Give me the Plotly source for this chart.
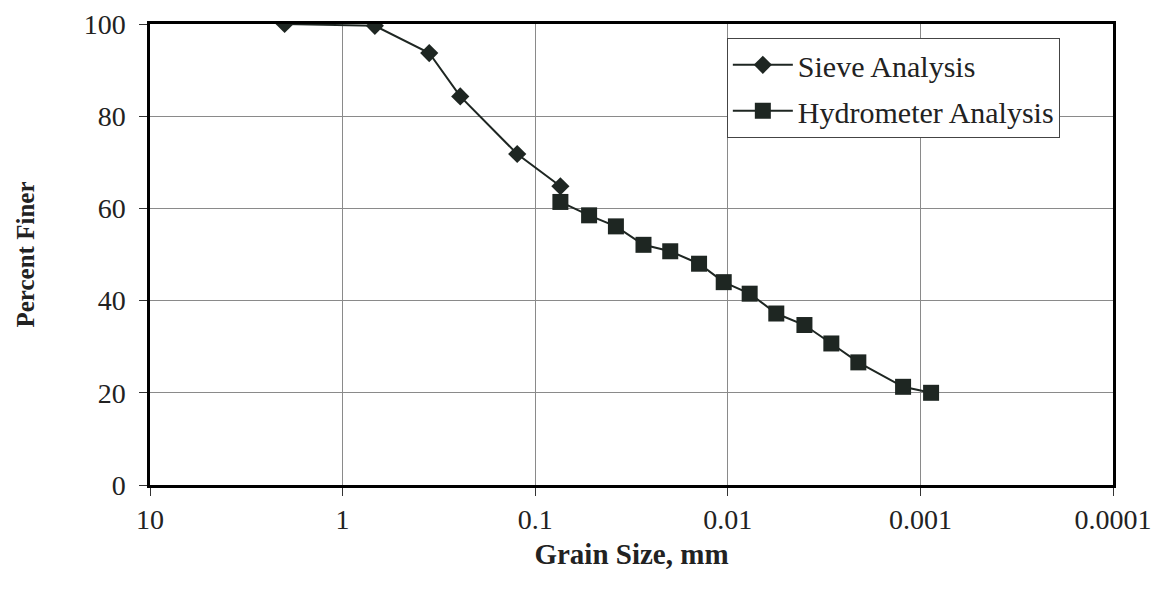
import plotly.graph_objects as go

# Sieve analysis (grain size in mm, percent finer)
sieve_size = [2.0, 0.68, 0.355, 0.245, 0.124, 0.074]
sieve_pct = [100, 99.6, 93.7, 84.3, 71.8, 64.8]

# Hydrometer analysis
hydro_size = [0.074, 0.0525, 0.0381, 0.0274, 0.0199, 0.0141, 0.0105,
              0.0077, 0.0056, 0.0040, 0.0029, 0.0021, 0.00123, 0.00088]
hydro_pct = [61.4, 58.5, 56.1, 52.1, 50.7, 48.0, 44.0,
             41.5, 37.2, 34.7, 30.7, 26.6, 21.3, 20.0]

x_ticks = [10, 1, 0.1, 0.01, 0.001, 0.0001]
x_ticktext = ["10", "1", "0.1", "0.01", "0.001", "0.0001"]
y_ticks = [0, 20, 40, 60, 80, 100]

ink = "#1e2622"
serif = "Liberation Serif, Times New Roman, serif"

fig = go.Figure()

fig.add_trace(go.Scatter(
    x=sieve_size, y=sieve_pct, name="Sieve Analysis",
    mode="lines+markers", legendgroup="a",
    line=dict(color=ink, width=2),
    marker=dict(symbol="diamond", size=14, color=ink),
))

fig.add_trace(go.Scatter(
    x=hydro_size, y=hydro_pct, name="Hydrometer Analysis",
    mode="lines+markers", legendgroup="b",
    line=dict(color=ink, width=2),
    marker=dict(symbol="square", size=16, color=ink),
))

# page body has an 8px margin, so the figure is a bit smaller than the window
fig.update_layout(
    width=1148, height=584,
    margin=dict(l=142, r=43, t=16, b=107),
    plot_bgcolor="white", paper_bgcolor="white",
    font=dict(family=serif, size=28, color="#222"),
    showlegend=True,
    legend=dict(
        x=0.599, y=0.97, xanchor="left", yanchor="top",
        bgcolor="white", bordercolor="#444", borderwidth=1,
        font=dict(family=serif, size=30, color="#222"),
        itemwidth=60, tracegroupgap=4,
    ),
)

fig.update_xaxes(
    type="log", range=[1, -4], automargin=False,
    tickmode="array", tickvals=x_ticks, ticktext=x_ticktext,
    ticks="outside", ticklen=8, tickcolor="#333", ticklabelstandoff=0,
    showgrid=True, gridcolor="#8a8a8a", gridwidth=1,
    showline=True, linecolor="black", linewidth=2.5, mirror=True,
    title=dict(text="<b>Grain Size, mm</b>", standoff=10,
               font=dict(family=serif, size=29, color="#222")),
)

fig.update_yaxes(
    range=[0, 100], automargin=False,
    tickmode="array", tickvals=y_ticks,
    ticks="outside", ticklen=8, tickcolor="#333", ticklabelstandoff=8,
    showgrid=True, gridcolor="#8a8a8a", gridwidth=1,
    showline=True, linecolor="black", linewidth=2.5, mirror=True,
    zeroline=False,
    title=dict(text="<b>Percent Finer</b>", standoff=42,
               font=dict(family=serif, size=25, color="#222")),
)

fig.write_html("out.html")
